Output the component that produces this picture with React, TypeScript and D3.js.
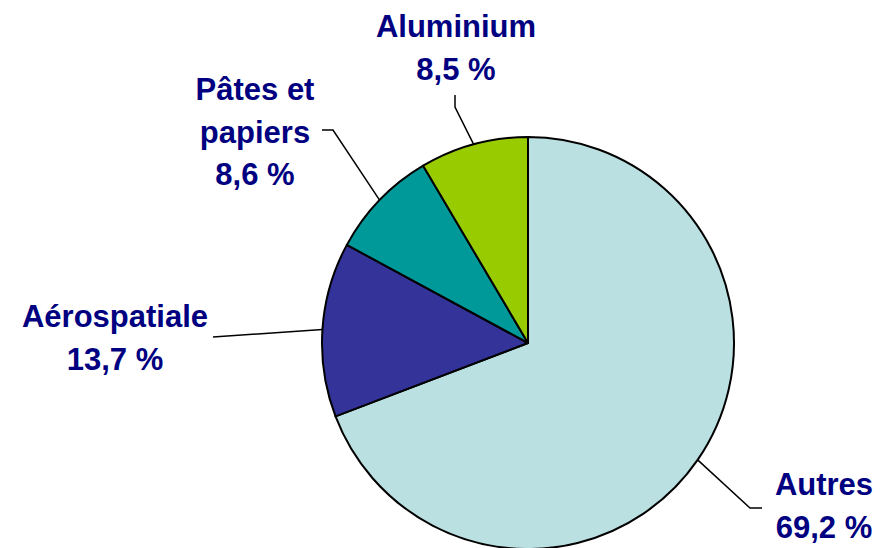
import React from "react";
import * as d3 from "d3";

const categories = ["Autres", "Aérospatiale", "Pâtes et papiers", "Aluminium"];
const values = [69.2, 13.7, 8.6, 8.5];
const valueLabels = ["69,2 %", "13,7 %", "8,6 %", "8,5 %"];
const labelLines = [["Autres"], ["Aérospatiale"], ["Pâtes et", "papiers"], ["Aluminium"]];
const colors = ["#BAE0E2", "#333399", "#009999", "#99CC00"];

// label layout: anchor x, first baseline, leader elbow points (from label side)
const layout = [
  { x: 824, y: 495, leader: [[762, 508], [750, 508]] },
  { x: 115, y: 327, leader: [[213, 337]] },
  { x: 255, y: 100, leader: [[322, 130], [333, 130]] },
  { x: 456, y: 37, leader: [[455, 95], [455, 107]] },
];

const W = 881;
const H = 548;
const cx = 528;
const cy = 343;
const R = 206;
const lineH = 42.5;

export default function App() {
  const pie = d3.pie<number>().sort(null).value((d) => d)(values);
  const arc = d3.arc<d3.PieArcDatum<number>>().innerRadius(0).outerRadius(R);
  return (
    <svg width={W} height={H} style={{ position: "absolute", left: 0, top: 0, background: "#fff" }}>
      <g transform={`translate(${cx},${cy})`}>
        {pie.map((p, i) => (
          <path key={i} d={arc(p) || ""} fill={colors[i]} stroke="#000" strokeWidth={2} strokeLinejoin="round" />
        ))}
      </g>
      {pie.map((p, i) => {
        const mid = (p.startAngle + p.endAngle) / 2;
        const sx = cx + R * Math.sin(mid);
        const sy = cy - R * Math.cos(mid);
        const pts = [...layout[i].leader, [sx, sy]] as [number, number][];
        const line = d3.line()(pts) || "";
        return <path key={"l" + i} d={line} fill="none" stroke="#000" strokeWidth={1.5} />;
      })}
      {categories.map((c, i) => {
        const lines = [...labelLines[i], valueLabels[i]];
        return (
          <text
            key={"t" + i}
            x={layout[i].x}
            y={layout[i].y}
            textAnchor="middle"
            fontFamily="'Liberation Sans', Arial, sans-serif"
            fontWeight="bold"
            fontSize={31}
            fill="#000080"
          >
            {lines.map((t, j) => (
              <tspan key={j} x={layout[i].x} y={layout[i].y + j * lineH}>
                {t}
              </tspan>
            ))}
          </text>
        );
      })}
    </svg>
  );
}
